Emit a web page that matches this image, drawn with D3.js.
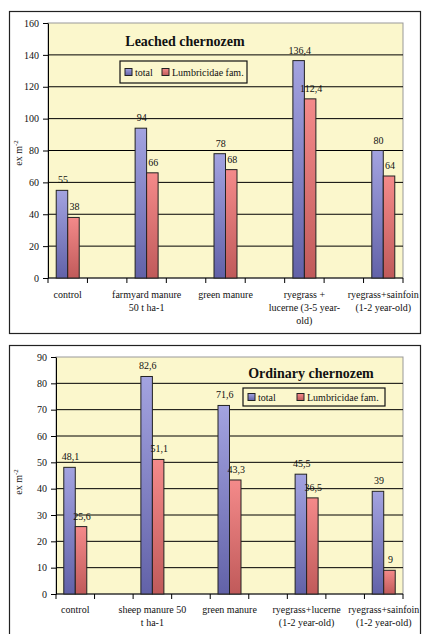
<!DOCTYPE html>
<html><head><meta charset="utf-8">
<script src="https://cdn.jsdelivr.net/npm/d3@7"></script>
<style>body{margin:0;background:#fff}svg{display:block}text{font-family:"Liberation Serif","Times New Roman",serif}</style>
</head><body>
<script>
// Chart 1: Leached chernozem
const cats1 = ["control","","farmyard manure\n50 t ha-1","","green manure","","ryegrass +\nlucerne (3-5 year-\nold)","","ryegrass+sainfoin\n(1-2 year-old)"];
const dataCats1 = ["control","farmyard manure\n50 t ha-1","green manure","ryegrass +\nlucerne (3-5 year-\nold)","ryegrass+sainfoin\n(1-2 year-old)"];
const total1 = [55, 94, 78, 136.4, 80];
const lumb1 = [38, 66, 68, 112.4, 64];
const yTicks1 = [0,20,40,60,80,100,120,140,160];

// Chart 2: Ordinary chernozem
const cats2 = ["control","","sheep manure 50\nt ha-1","","green manure","","ryegrass+lucerne\n(1-2 year-old)","","ryegrass+sainfoin\n(1-2 year-old)"];
const dataCats2 = ["control","sheep manure 50\nt ha-1","green manure","ryegrass+lucerne\n(1-2 year-old)","ryegrass+sainfoin\n(1-2 year-old)"];
const total2 = [48.1, 82.6, 71.6, 45.5, 39];
const lumb2 = [25.6, 51.1, 43.3, 36.5, 9];
const yTicks2 = [0,10,20,30,40,50,60,70,80,90];

const seriesNames = ["total","Lumbricidae fam."];

const svg = d3.select("body").append("svg").attr("width",423).attr("height",634);
const defs = svg.append("defs");
function grad(id, c1, c2){
  const g = defs.append("linearGradient").attr("id",id).attr("x1",0).attr("y1",0).attr("x2",0).attr("y2",1);
  g.append("stop").attr("offset","0%").attr("stop-color",c1);
  g.append("stop").attr("offset","100%").attr("stop-color",c2);
}
grad("gBlue","#a3a3e0","#6262a8");
grad("gRed","#f48a8a","#c05a5a");
const fills = ["url(#gBlue)","url(#gRed)"];
const fmt = v => String(v).replace(".", ",");

function drawChart(o){
  const g = svg.append("g");
  g.append("rect").attr("x",o.box[0]+0.5).attr("y",o.box[1]+0.5).attr("width",o.box[2]).attr("height",o.box[3])
    .attr("fill","#fff").attr("stroke","#222").attr("stroke-width",1.2);
  const x = d3.scaleBand().domain(d3.range(o.cats.length)).range([o.left,o.right]).padding(0);
  const y = d3.scaleLinear().domain([0,o.ymax]).range([o.bottom,o.top]);
  g.append("rect").attr("x",o.left).attr("y",o.top).attr("width",o.right-o.left).attr("height",o.bottom-o.top)
    .attr("fill","#fbf7cc").attr("stroke","#999").attr("stroke-width",1);
  // gridlines
  g.selectAll(".grid").data(o.yTicks.filter(t=>t>0 && t<o.ymax)).join("line")
    .attr("x1",o.left).attr("x2",o.right).attr("y1",d=>y(d)).attr("y2",d=>y(d))
    .attr("stroke","#000").attr("stroke-width",1);
  // y axis
  const ya = g.append("g").attr("transform",`translate(${o.left},0)`)
    .call(d3.axisLeft(y).tickValues(o.yTicks).tickSize(5).tickSizeOuter(0).tickPadding(4));
  ya.select(".domain").attr("stroke","#000");
  ya.selectAll("text").attr("font-size",10).attr("font-family","Liberation Serif").attr("fill","#111");
  // x axis
  const xa = g.append("g").attr("transform",`translate(0,${o.bottom})`);
  xa.append("line").attr("x1",o.left).attr("x2",o.right).attr("stroke","#000");
  const edges = d3.range(o.cats.length+1).map(i => i<o.cats.length ? x(i) : o.right);
  xa.selectAll(".tk").data(edges).join("line").attr("x1",d=>d).attr("x2",d=>d).attr("y1",0).attr("y2",5).attr("stroke","#000");
  o.cats.forEach((c,i)=>{
    if(!c) return;
    const t = xa.append("text").attr("text-anchor","middle").attr("font-size",10).attr("fill","#111")
      .attr("transform",`translate(${x(i)+x.bandwidth()/2},${o.labDy})`);
    c.split("\n").forEach((ln,j)=>t.append("tspan").attr("x",0).attr("dy",j?13:0).text(ln));
  });
  // bars
  const bw = o.bw;
  const idx = o.dataCats.map(c=>o.cats.indexOf(c));
  [o.total,o.lumb].forEach((arr,s)=>{
    g.selectAll(".b"+s).data(arr).join("rect")
      .attr("x",(d,i)=>x(idx[i])+x.bandwidth()/2 - bw + s*bw)
      .attr("y",d=>y(d)).attr("width",bw).attr("height",d=>o.bottom-y(d))
      .attr("fill",fills[s]).attr("stroke","#222").attr("stroke-width",1);
    g.selectAll(".l"+s).data(arr).join("text")
      .attr("x",(d,i)=>x(idx[i])+x.bandwidth()/2 - bw + s*bw + bw/2 + 1)
      .attr("y",d=>y(d)-7).attr("text-anchor","middle").attr("font-size",10).attr("fill","#111")
      .text(d=>fmt(d));
  });
  // title
  g.append("text").attr("x",o.titleX).attr("y",o.titleY).attr("text-anchor","middle")
    .attr("font-size",14).attr("font-weight","bold").attr("fill","#111").text(o.title);
  // legend
  const L = o.legend;
  g.append("rect").attr("x",L[0]).attr("y",L[1]).attr("width",L[2]).attr("height",L[3])
    .attr("fill","#fbf7cc").attr("stroke","#111").attr("stroke-width",1.2);
  let lx = L[0]+5;
  seriesNames.forEach((n,s)=>{
    g.append("rect").attr("x",lx).attr("y",L[1]+L[3]/2-3.5).attr("width",7).attr("height",7)
      .attr("fill",fills[s]).attr("stroke","#222");
    g.append("text").attr("x",lx+10).attr("y",L[1]+L[3]/2+3.5).attr("font-size",10).attr("fill","#111").text(n);
    lx += o.legStep;
  });
  // y label
  const yl = g.append("text").attr("transform",`translate(${o.ylab[0]},${o.ylab[1]}) rotate(-90)`)
    .attr("text-anchor","middle").attr("font-size",10).attr("fill","#111");
  yl.append("tspan").text("ex m");
  yl.append("tspan").attr("dy",-4).attr("font-size",7).text("-2");
}

drawChart({box:[9,11,411,322], left:48, right:403, top:23, bottom:278, ymax:160, yTicks:yTicks1,
  cats:cats1, dataCats:dataCats1, total:total1, lumb:lumb1, bw:11.5, labDy:20,
  title:"Leached chernozem", titleX:185, titleY:46, legend:[120,61,127,22], legStep:37, ylab:[22,153]});
drawChart({box:[9,345,411,300], left:56, right:403, top:357, bottom:594, ymax:90, yTicks:yTicks2,
  cats:cats2, dataCats:dataCats2, total:total2, lumb:lumb2, bw:11.5, labDy:19,
  title:"Ordinary chernozem", titleX:311, titleY:378, legend:[243,388,142,18], legStep:49, ylab:[22,482]});
</script>
</body></html>
